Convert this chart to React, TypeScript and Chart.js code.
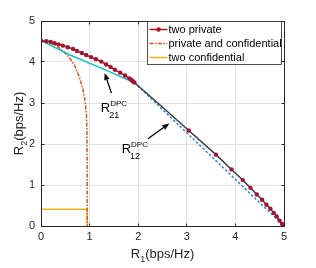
import { useEffect, useRef } from 'react';
import { Chart, registerables } from 'chart.js';

Chart.register(...registerables);

const FONT = '"Liberation Sans", Arial, Helvetica, sans-serif';

// Data (R1, R2 in bps/Hz)
const twoPrivateR1 = [0, 0.11, 0.2, 0.28, 0.36, 0.45, 0.55, 0.66, 0.74, 0.84, 0.93, 1.03, 1.13, 1.24, 1.34, 1.43, 1.52, 1.63, 1.73, 1.82, 1.86, 1.89, 1.92, 2.45, 3.04, 3.6, 3.92, 4.15, 4.31, 4.44, 4.55, 4.64, 4.72, 4.79, 4.85, 4.91, 4.96, 4.99];
const twoPrivateR2 = [4.52, 4.51, 4.49, 4.46, 4.43, 4.4, 4.36, 4.32, 4.27, 4.22, 4.17, 4.12, 4.07, 4.01, 3.94, 3.88, 3.81, 3.74, 3.67, 3.6, 3.56, 3.53, 3.5, 2.95, 2.33, 1.74, 1.38, 1.12, 0.93, 0.77, 0.64, 0.52, 0.42, 0.32, 0.23, 0.13, 0.05, 0];

const privConfR1 = [0, 0.2, 0.35, 0.55, 0.69, 0.79, 0.86, 0.91, 0.935, 0.945, 0.95, 0.95];
const privConfR2 = [4.52, 4.46, 4.37, 4.16, 3.92, 3.63, 3.35, 3.02, 2.7, 2.3, 1.5, 0];

const twoConfR1 = [0, 0.95, 0.95];
const twoConfR2 = [0.41, 0.41, 0];

const dpc21R1 = [0, 0.6, 1.3, 1.92];
const dpc21R2 = [4.52, 4.17, 3.82, 3.5];

const dpc12R1 = [1.92, 5.0];
const dpc12R2 = [3.5, 0];

const xTicks = [0, 1, 2, 3, 4, 5];
const yTicks = [0, 1, 2, 3, 4, 5];

const legendLabels = ['two private', 'private and confidential', 'two confidential'];

// annotation arrows: [tailR1, tailR2, headR1, headR2]
const arrow21 = [1.45, 3.24, 1.31, 3.73];
const arrow12 = [2.2, 2.13, 2.64, 2.5];
// annotation label anchors [R1, R2] (left / baseline of "R")
const label21 = [1.23, 2.77];
const label12 = [1.66, 1.77];
const label21Sub = '21';
const label12Sub = '12';

const RED = '#A2142F';
const DARK = '#3c3c4a';
const ORANGE = '#D95319';
const YELLOW = '#EDB120';
const CYAN = '#17bcc6';
const BLUE = '#2a86d0';
const AXIS = '#262626';

function pts(xs: number[], ys: number[]) {
  return xs.map((x, i) => ({ x, y: ys[i] }));
}

function drawArrow(ctx: CanvasRenderingContext2D, x1: number, y1: number, x2: number, y2: number) {
  const ang = Math.atan2(y2 - y1, x2 - x1);
  const len = 7;
  const w = 2.8;
  const bx = x2 - len * Math.cos(ang);
  const by = y2 - len * Math.sin(ang);
  ctx.strokeStyle = '#000';
  ctx.fillStyle = '#000';
  ctx.lineWidth = 1.3;
  ctx.beginPath();
  ctx.moveTo(x1, y1);
  ctx.lineTo(bx, by);
  ctx.stroke();
  ctx.beginPath();
  ctx.moveTo(x2, y2);
  ctx.lineTo(bx + w * Math.sin(ang), by - w * Math.cos(ang));
  ctx.lineTo(bx - w * Math.sin(ang), by + w * Math.cos(ang));
  ctx.closePath();
  ctx.fill();
}

function drawRLabel(ctx: CanvasRenderingContext2D, x: number, y: number, sub: string) {
  ctx.fillStyle = '#000';
  ctx.textAlign = 'left';
  ctx.textBaseline = 'alphabetic';
  ctx.font = `13px ${FONT}`;
  ctx.fillText('R', x, y);
  const rw = ctx.measureText('R').width;
  ctx.font = `8px ${FONT}`;
  ctx.fillText('DPC', x + rw, y - 6);
  ctx.font = `9px ${FONT}`;
  ctx.fillText(sub, x + rw - 1, y + 6);
}

function drawTitle(ctx: CanvasRenderingContext2D, cx: number, cy: number, main: string, sub: string, rest: string) {
  ctx.fillStyle = AXIS;
  ctx.textBaseline = 'alphabetic';
  ctx.textAlign = 'left';
  ctx.font = `13px ${FONT}`;
  const w1 = ctx.measureText(main).width;
  const w3 = ctx.measureText(rest).width;
  ctx.font = `9px ${FONT}`;
  const w2 = ctx.measureText(sub).width;
  let x = cx - (w1 + w2 + w3) / 2;
  ctx.font = `13px ${FONT}`;
  ctx.fillText(main, x, cy);
  x += w1;
  ctx.font = `9px ${FONT}`;
  ctx.fillText(sub, x, cy + 4);
  x += w2;
  ctx.font = `13px ${FONT}`;
  ctx.fillText(rest, x, cy);
}

const overlay = {
  id: 'overlay',
  afterDraw(chart: any) {
    const { ctx, chartArea: a, scales } = chart;
    const xs = scales.x;
    const ys = scales.y;
    const al = (p: number) => Math.round(p - 0.5) + 0.5;
    ctx.save();
    // box
    ctx.strokeStyle = AXIS;
    ctx.lineWidth = 1;
    const L = al(a.left), R = al(a.right), T = al(a.top), B = al(a.bottom);
    ctx.strokeRect(L, T, R - L, B - T);
    // inner tick marks
    ctx.beginPath();
    xTicks.forEach((v) => {
      const p = al(xs.getPixelForValue(v));
      ctx.moveTo(p, B); ctx.lineTo(p, B - 3);
      ctx.moveTo(p, T); ctx.lineTo(p, T + 3);
    });
    yTicks.forEach((v) => {
      const p = al(ys.getPixelForValue(v));
      ctx.moveTo(L, p); ctx.lineTo(L + 3, p);
      ctx.moveTo(R, p); ctx.lineTo(R - 3, p);
    });
    ctx.stroke();

    // arrows
    [arrow21, arrow12].forEach((ar) => {
      drawArrow(ctx, xs.getPixelForValue(ar[0]), ys.getPixelForValue(ar[1]), xs.getPixelForValue(ar[2]), ys.getPixelForValue(ar[3]));
    });
    drawRLabel(ctx, xs.getPixelForValue(label21[0]), ys.getPixelForValue(label21[1]), label21Sub);
    drawRLabel(ctx, xs.getPixelForValue(label12[0]), ys.getPixelForValue(label12[1]), label12Sub);

    // legend
    const lx = Math.round(a.right) - 136.5;
    const ly = Math.round(a.top) + 0.5;
    const lw = 134;
    const lh = 43;
    ctx.fillStyle = '#fff';
    ctx.fillRect(lx, ly, lw, lh);
    ctx.strokeStyle = AXIS;
    ctx.lineWidth = 0.8;
    ctx.strokeRect(lx, ly, lw, lh);
    const rows = [ly + 8, ly + 22, ly + 36];
    const colors = [RED, ORANGE, YELLOW];
    const dashes = [[], [4, 1.5, 1.5, 1.5], []];
    rows.forEach((ry, i) => {
      ctx.strokeStyle = colors[i];
      ctx.lineWidth = 1.5;
      ctx.setLineDash(dashes[i]);
      ctx.beginPath();
      ctx.moveTo(lx + 2, ry);
      ctx.lineTo(lx + 20, ry);
      ctx.stroke();
      ctx.setLineDash([]);
      if (i === 0) {
        ctx.fillStyle = RED;
        ctx.beginPath();
        ctx.arc(lx + 11, ry, 2.2, 0, Math.PI * 2);
        ctx.fill();
      }
      ctx.fillStyle = '#000';
      ctx.font = `11px ${FONT}`;
      ctx.textAlign = 'left';
      ctx.textBaseline = 'middle';
      ctx.fillText(legendLabels[i], lx + 21, ry + 0.5);
    });

    // axis titles
    drawTitle(ctx, (a.left + a.right) / 2, 258, 'R', '1', '(bps/Hz)');
    ctx.save();
    ctx.translate(23, (a.top + a.bottom) / 2);
    ctx.rotate(-Math.PI / 2);
    drawTitle(ctx, 0, 0, 'R', '2', '(bps/Hz)');
    ctx.restore();
    ctx.restore();
  },
};

export default function App() {
  const ref = useRef<HTMLCanvasElement | null>(null);
  useEffect(() => {
    if (!ref.current) return;
    const chart = new Chart(ref.current, {
      type: 'scatter',
      data: {
        datasets: [
          {
            label: legendLabels[0],
            data: pts(twoPrivateR1, twoPrivateR2),
            showLine: true,
            borderColor: RED,
            backgroundColor: RED,
            borderWidth: 1.5,
            pointRadius: (c: any) => {
              const v = c.raw ? c.raw.x : 0;
              return v > 1.95 && v < 3.0 ? 0 : 2.2;
            },
            pointBorderWidth: 0,
            segment: {
              borderColor: (c: any) => (c.p0.parsed.x >= 1.9 ? DARK : undefined),
            },
          },
          {
            label: 'dpc21',
            data: pts(dpc21R1, dpc21R2),
            showLine: true,
            borderColor: CYAN,
            borderWidth: 1.5,
            pointRadius: 0,
          },
          {
            label: 'dpc12',
            data: pts(dpc12R1, dpc12R2),
            showLine: true,
            borderColor: BLUE,
            borderWidth: 1.5,
            borderDash: [2.5, 2],
            pointRadius: 0,
          },
          {
            label: legendLabels[1],
            data: pts(privConfR1, privConfR2),
            showLine: true,
            borderColor: ORANGE,
            borderWidth: 1.5,
            borderDash: [4, 1.5, 1.5, 1.5],
            pointRadius: 0,
          },
          {
            label: legendLabels[2],
            data: pts(twoConfR1, twoConfR2),
            showLine: true,
            borderColor: YELLOW,
            borderWidth: 1.5,
            pointRadius: 0,
          },
        ],
      },
      options: {
        responsive: false,
        animation: false,
        layout: { padding: { top: 21, right: 32, left: 0, bottom: 0 } },
        plugins: { legend: { display: false }, tooltip: { enabled: false } },
        scales: {
          x: {
            type: 'linear',
            min: 0,
            max: 5,
            afterBuildTicks: (s: any) => { s.ticks = xTicks.map((v) => ({ value: v })); },
            afterFit: (s: any) => { s.height = 42; },
            ticks: { font: { family: FONT, size: 11 }, color: AXIS, padding: 4, maxRotation: 0 },
            grid: { color: '#e3e3e3', drawTicks: false },
            border: { display: false },
          },
          y: {
            type: 'linear',
            min: 0,
            max: 5,
            afterBuildTicks: (s: any) => { s.ticks = yTicks.map((v) => ({ value: v })); },
            afterFit: (s: any) => { s.width = 41; },
            ticks: { font: { family: FONT, size: 11 }, color: AXIS, padding: 6 },
            grid: { color: '#e3e3e3', drawTicks: false },
            border: { display: false },
          },
        },
      },
      plugins: [overlay],
    } as any);
    return () => chart.destroy();
  }, []);
  return (
    <div style={{ position: 'absolute', left: 0, top: 0, width: 316, height: 268, background: '#fff' }}>
      <canvas ref={ref} width={316} height={268} style={{ width: 316, height: 268 }} />
    </div>
  );
}
